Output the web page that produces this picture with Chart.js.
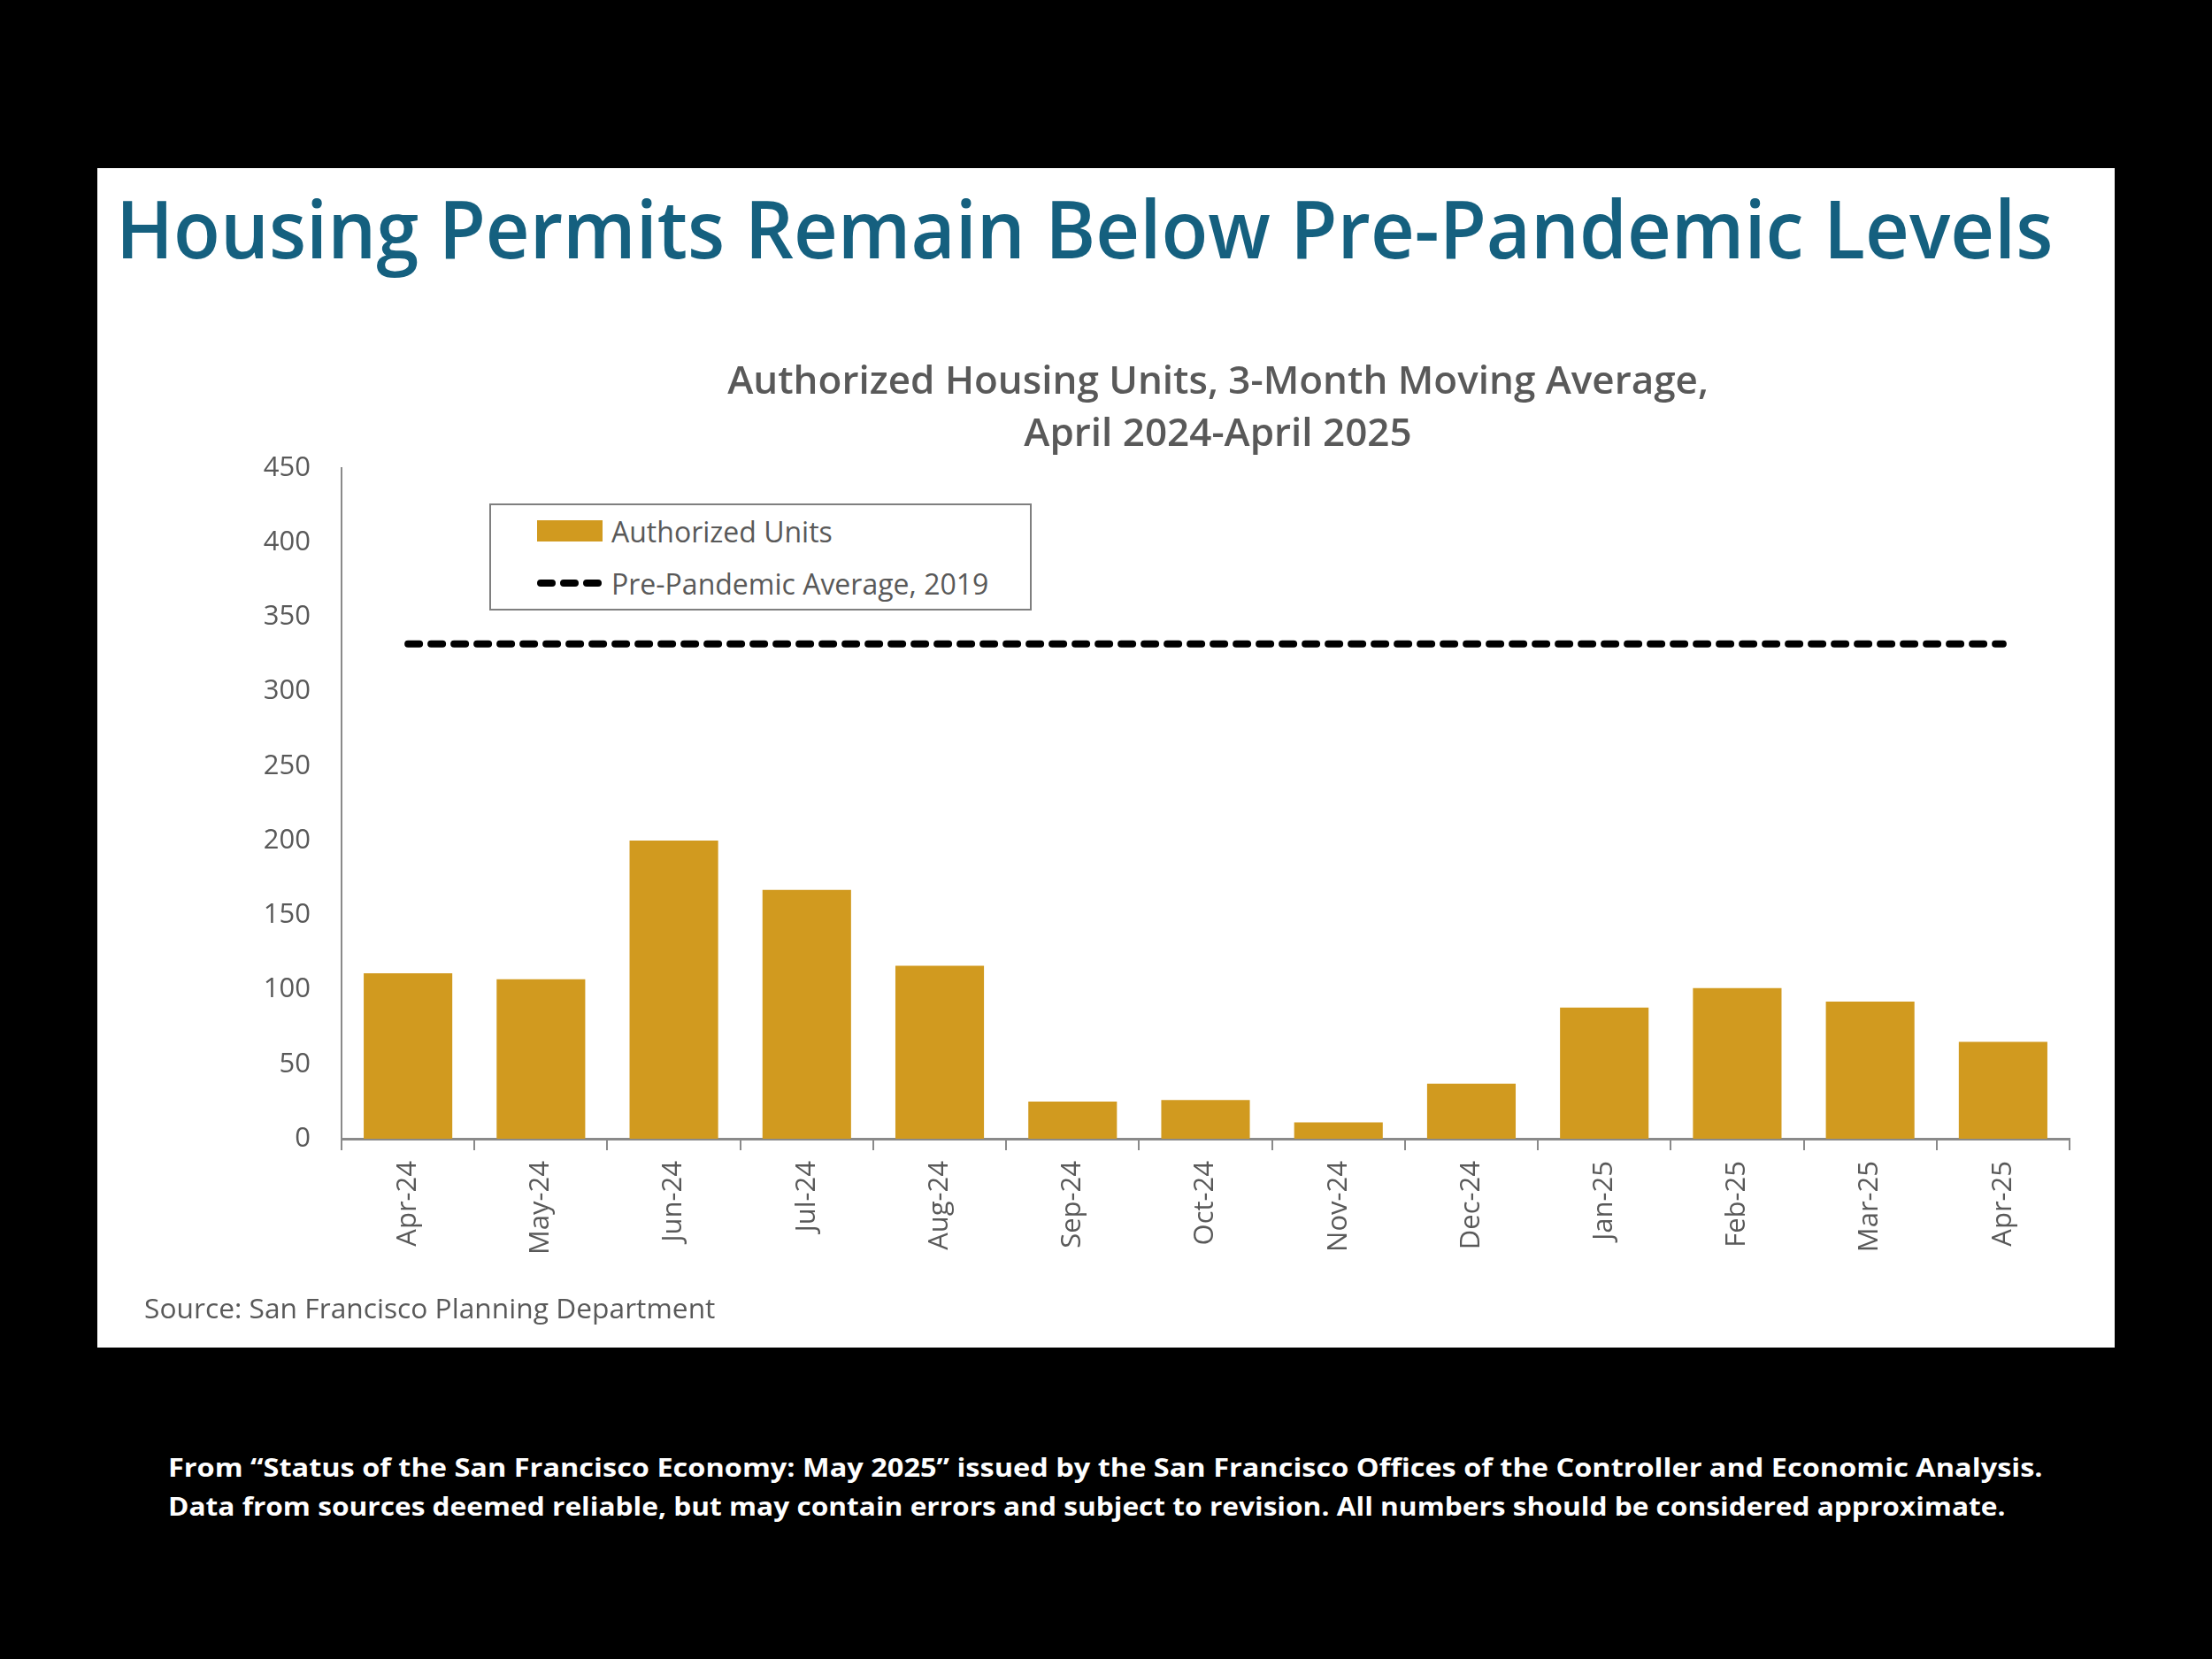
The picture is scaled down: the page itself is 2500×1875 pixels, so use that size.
<!DOCTYPE html>
<html><head><meta charset="utf-8">
<script src="https://cdn.jsdelivr.net/npm/chart.js@4.4.1/dist/chart.umd.min.js"></script>
<style>
html,body{margin:0;padding:0;background:#000;width:2500px;height:1875px;overflow:hidden;font-family:"Open Sans",sans-serif;}
#panel{position:absolute;left:110px;top:190px;width:2280px;height:1333px;background:#fff;}
#chartBox{position:absolute;left:110px;top:190px;width:2280px;height:1333px;}
.txt{position:absolute;white-space:nowrap;line-height:1;transform-origin:0 0;}
#title{left:131px;top:212px;font-size:91px;font-weight:600;color:#15607f;}
#source{left:163px;top:1463px;font-size:31px;color:#595959;}
.foot{left:190px;font-size:29px;font-weight:700;color:#fff;}
#legend{position:absolute;left:553px;top:569px;width:609px;height:117px;border:2px solid #7f7f7f;background:#fff;}
.litem{position:absolute;left:52px;height:40px;display:flex;align-items:center;font-size:32px;color:#595959;white-space:nowrap;}
.lmark{width:74px;height:24px;margin-right:10px;flex:none;}
</style></head>
<body>
<div id="panel"></div>
<div id="title" class="txt">Housing Permits Remain Below Pre-Pandemic Levels</div>
<div id="chartBox"><canvas id="c"></canvas></div>
<div id="legend"></div>
<div id="source" class="txt">Source: San Francisco Planning Department</div>
<div id="foot1" class="txt foot" style="top:1643px">From “Status of the San Francisco Economy: May 2025” issued by the San Francisco Offices of the Controller and Economic Analysis.</div>
<div id="foot2" class="txt foot" style="top:1687px">Data from sources deemed reliable, but may contain errors and subject to revision. All numbers should be considered approximate.</div>
<script>
const categories = ["Apr-24","May-24","Jun-24","Jul-24","Aug-24","Sep-24","Oct-24","Nov-24","Dec-24","Jan-25","Feb-25","Mar-25","Apr-25"];
const authorizedUnits = [111,107,200,167,116,25,26,11,37,88,101,92,65];
const prePandemicAvg = [332,332,332,332,332,332,332,332,332,332,332,332,332];
const yTicks = [0,50,100,150,200,250,300,350,400,450];
const seriesNames = ["Authorized Units","Pre-Pandemic Average, 2019"];
const subtitleLines = ["Authorized Housing Units, 3-Month Moving Average,","April 2024-April 2025"];

const GOLD = '#D19A1F', GRAY = '#595959', AXIS = '#8a8a8a';
Chart.defaults.font.family = '"Open Sans", sans-serif';
Chart.defaults.color = GRAY;

// shifts the subtitle block slightly right, as in the reference
const titleShift = {
  id:'titleShift',
  afterLayout(chart){ const t = chart.titleBlock; if (t) { t.left += 28; } }
};

const chart = new Chart(document.getElementById('c'), {
  data: {
    labels: categories,
    datasets: [
      {type:'bar', label:seriesNames[0], data:authorizedUnits, backgroundColor:GOLD,
       categoryPercentage:0.8, barPercentage:0.833, order:1},
      {type:'line', label:seriesNames[1], data:prePandemicAvg, borderColor:'#000', borderWidth:8,
       borderDash:[13,13], borderCapStyle:'round', pointRadius:0, fill:false, order:0}
    ]
  },
  plugins:[titleShift],
  options: {
    responsive:true, maintainAspectRatio:false, animation:false,
    layout:{padding:{left:156,right:51,top:0,bottom:36}},
    plugins:{
      legend:{display:false}, tooltip:{enabled:false},
      title:{display:true, text:subtitleLines, fullSize:false, color:GRAY,
        font:{size:44, weight:'600', lineHeight:1.34}, padding:{top:213,bottom:8}}
    },
    scales:{
      x:{
        grid:{display:true, drawOnChartArea:false, drawTicks:true, tickLength:13, color:AXIS, lineWidth:2, offset:true},
        border:{display:true, color:AXIS, width:3},
        ticks:{color:GRAY, font:{size:31}, minRotation:90, maxRotation:90, autoSkip:false, padding:12},
        afterFit:(s)=>{s.height=200;}
      },
      y:{
        min:0, max:450,
        afterBuildTicks:(s)=>{s.ticks = yTicks.map(v=>({value:v}));},
        grid:{display:false, drawTicks:false},
        border:{display:true, color:AXIS, width:2},
        ticks:{color:GRAY, font:{size:31}, padding:35},
        afterFit:(s)=>{s.width=120;}
      }
    }
  }
});

// HTML legend built from the chart datasets
const leg = document.getElementById('legend');
chart.data.datasets.forEach((ds,i)=>{
  const item = document.createElement('div');
  item.className='litem';
  item.style.top = (i===0 ? 9 : 68) + 'px';
  let mark;
  if (ds.type==='bar') {
    mark = document.createElement('div');
    mark.className='lmark';
    mark.style.background = ds.backgroundColor;
  } else {
    mark = document.createElementNS('http://www.w3.org/2000/svg','svg');
    mark.setAttribute('class','lmark');
    mark.setAttribute('width','74'); mark.setAttribute('height','24');
    const ln = document.createElementNS('http://www.w3.org/2000/svg','line');
    ln.setAttribute('x1','4'); ln.setAttribute('x2','70'); ln.setAttribute('y1','12'); ln.setAttribute('y2','12');
    ln.setAttribute('stroke', ds.borderColor); ln.setAttribute('stroke-width', ds.borderWidth);
    ln.setAttribute('stroke-dasharray', ds.borderDash.join(' ')); ln.setAttribute('stroke-linecap','round');
    mark.appendChild(ln);
  }
  const t = document.createElement('span'); t.textContent = ds.label;
  item.appendChild(mark); item.appendChild(t);
  leg.appendChild(item);
});

function fitWidth(id, w){
  const el = document.getElementById(id);
  const r = el.offsetWidth; // untransformed width
  el.style.transform = 'scaleX(' + (w/r) + ')';
}
function fitAll(){
  fitWidth('title', 2189);
  fitWidth('foot1', 2119);
  fitWidth('foot2', 2077);
  fitWidth('source', 645);
}
fitAll();
if (document.fonts && document.fonts.ready) document.fonts.ready.then(fitAll);
</script>
</body></html>
